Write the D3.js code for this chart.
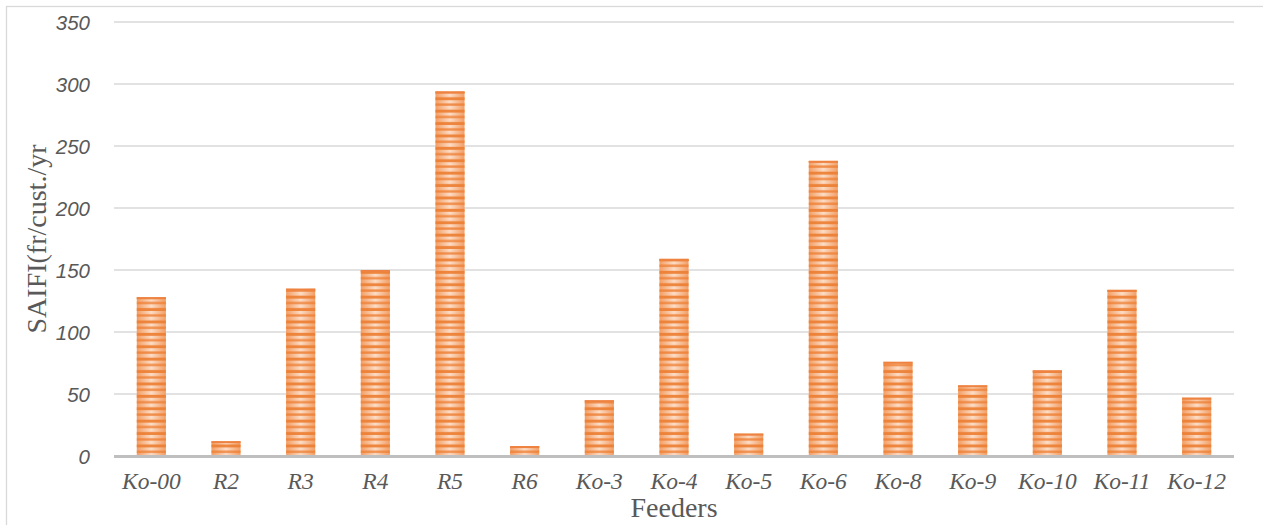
<!DOCTYPE html>
<html>
<head>
<meta charset="utf-8">
<script src="https://cdn.jsdelivr.net/npm/d3@7"></script>
<style>
  html, body { margin: 0; padding: 0; background: #fff; }
  svg { display: block; }
</style>
</head>
<body>
<svg id="chart" width="1263" height="525"></svg>
<script>
// Feeder reliability: SAIFI per feeder
const feeders = ["Ko-00", "R2", "R3", "R4", "R5", "R6", "Ko-3", "Ko-4", "Ko-5", "Ko-6", "Ko-8", "Ko-9", "Ko-10", "Ko-11", "Ko-12"];
const saifi = [128, 12, 135, 150, 294, 8, 45, 159, 18, 238, 76, 57, 69, 134, 47];
const yTicks = [0, 50, 100, 150, 200, 250, 300, 350];

const W = 1263, H = 525;
const plot = { left: 114, right: 1234, top: 22, bottom: 456 };
const svg = d3.select("#chart");

// outer chart frame
svg.append("rect")
  .attr("x", 6.5).attr("y", 6.5)
  .attr("width", W + 10).attr("height", H + 10)
  .attr("fill", "none").attr("stroke", "#d9d9d9").attr("stroke-width", 1.3);

const x = d3.scaleBand()
  .domain(feeders)
  .range([plot.left, plot.right])
  .paddingInner(0.61)
  .paddingOuter(0.305);

const y = d3.scaleLinear()
  .domain([0, 350])
  .range([plot.bottom, plot.top]);

// bar fill: light horizontal gradient plus dark horizontal stripes
const defs = svg.append("defs");
const grad = defs.append("linearGradient").attr("id", "barGrad")
  .attr("x1", "0%").attr("x2", "100%").attr("y1", "0%").attr("y2", "0%");
grad.append("stop").attr("offset", "0%").attr("stop-color", "#f29e65");
grad.append("stop").attr("offset", "50%").attr("stop-color", "#fcdcc6");
grad.append("stop").attr("offset", "100%").attr("stop-color", "#f29e65");

const stripe = defs.append("pattern").attr("id", "barStripes")
  .attr("patternUnits", "userSpaceOnUse")
  .attr("x", 0).attr("y", plot.bottom)
  .attr("width", 10).attr("height", 12.4);
stripe.append("rect").attr("x", 0).attr("y", 0.8).attr("width", 10).attr("height", 3)
  .attr("fill", "#ed7d31").attr("fill-opacity", 0.9);
stripe.append("rect").attr("x", 0).attr("y", 7).attr("width", 10).attr("height", 2.4)
  .attr("fill", "#ed7d31").attr("fill-opacity", 0.8);

// gridlines
svg.append("g")
  .selectAll("line")
  .data(yTicks.filter(d => d > 0))
  .join("line")
  .attr("x1", plot.left).attr("x2", plot.right)
  .attr("y1", d => y(d)).attr("y2", d => y(d))
  .attr("stroke", "#d9d9d9").attr("stroke-width", 1.6);

// bars
const bars = svg.append("g");
bars.selectAll("rect.base")
  .data(saifi)
  .join("rect")
  .attr("class", "base")
  .attr("x", (d, i) => x(feeders[i]))
  .attr("y", d => y(d))
  .attr("width", x.bandwidth())
  .attr("height", d => plot.bottom - y(d))
  .attr("fill", "url(#barGrad)");
bars.selectAll("rect.stripes")
  .data(saifi)
  .join("rect")
  .attr("class", "stripes")
  .attr("x", (d, i) => x(feeders[i]))
  .attr("y", d => y(d))
  .attr("width", x.bandwidth())
  .attr("height", d => plot.bottom - y(d))
  .attr("fill", "url(#barStripes)");
bars.selectAll("rect.cap")
  .data(saifi)
  .join("rect")
  .attr("class", "cap")
  .attr("x", (d, i) => x(feeders[i]))
  .attr("y", d => y(d))
  .attr("width", x.bandwidth())
  .attr("height", 2)
  .attr("fill", "#ee8240");

// category axis line
svg.append("line")
  .attr("x1", plot.left).attr("x2", plot.right)
  .attr("y1", plot.bottom + 0.5).attr("y2", plot.bottom + 0.5)
  .attr("stroke", "#bfbfbf").attr("stroke-width", 3);

// value axis labels
const yAxis = d3.axisLeft(y).tickValues(yTicks).tickSize(0).tickPadding(0);
const gy = svg.append("g").attr("transform", `translate(${plot.left - 24},0)`).call(yAxis);
gy.select(".domain").remove();
gy.selectAll("text")
  .attr("font-family", "'Liberation Sans', Arial, sans-serif")
  .attr("font-style", "italic")
  .attr("font-size", 20.5)
  .attr("fill", "#595959")
  .attr("dy", "0.36em");

// category axis labels
const xAxis = d3.axisBottom(x).tickSize(0).tickPadding(0);
const gx = svg.append("g").attr("transform", `translate(0,${plot.bottom})`).call(xAxis);
gx.select(".domain").remove();
gx.selectAll("text")
  .attr("font-family", "'Liberation Serif', 'Times New Roman', serif")
  .attr("font-style", "italic")
  .attr("font-size", 23.5)
  .attr("fill", "#595959")
  .attr("dy", null)
  .attr("y", 33);

// axis titles
svg.append("text")
  .attr("x", (plot.left + plot.right) / 2)
  .attr("y", 517)
  .attr("text-anchor", "middle")
  .attr("font-family", "'Liberation Serif', 'Times New Roman', serif")
  .attr("font-size", 28)
  .attr("fill", "#595959")
  .text("Feeders");

svg.append("text")
  .attr("transform", `translate(46,${(plot.top + plot.bottom) / 2}) rotate(-90)`)
  .attr("text-anchor", "middle")
  .attr("font-family", "'Liberation Serif', 'Times New Roman', serif")
  .attr("font-size", 28)
  .attr("fill", "#595959")
  .text("SAIFI(fr/cust./yr");
</script>
</body>
</html>
